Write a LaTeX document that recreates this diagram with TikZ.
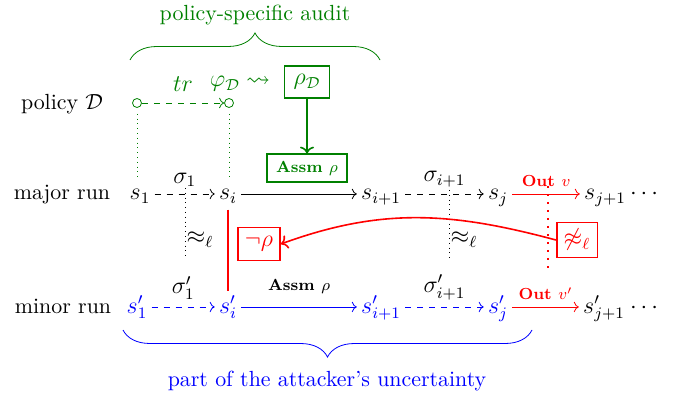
\documentclass[tikz,border=0pt]{standalone}
\usepackage{amsmath,amssymb}
\usepackage{fontspec}
\usepackage{xcolor}
\usepackage{tikz}
\usetikzlibrary{positioning,calc,decorations.pathreplacing,arrows.meta}
\colorlet{audit}{green!50!black}

\begin{document}
\begin{tikzpicture}[x=0.5pt, y=-0.5pt, font=\fontsize{10.95}{13}\selectfont,
    mth/.style={font=\fontsize{12}{14}\selectfont},
    st/.style={mth, anchor=base, text height=2ex, text depth=0.6ex, inner sep=2pt},
    rowlabel/.style={anchor=base},
    hint/.style={font=\fontsize{8}{10}\selectfont\bfseries},
    gbox/.style={draw=audit, thick, text=audit, inner xsep=4.5pt},
    rbox/.style={mth, draw=red, thick, text=red, minimum height=16.5pt, inner xsep=3.5pt},
    gcirc/.style={draw=audit, circle, inner sep=0pt, minimum size=4.5pt}]
    \useasboundingbox (0,0) rectangle (678,400);

    % Audit brace
    \node[audit] (audit) at (255,15) {policy-specific audit};
    \draw[audit, decorate, decoration={brace, amplitude=13.5pt}] (130,60) -- (380,60);

    % Policy row
    \node[rowlabel] (pol) at (62,110) {policy $\mathcal{D}$};
    \node[gcirc] (c1) at (137,103) {};
    \node[gcirc] (c2) at (229,103) {};
    \draw[audit, dashed, ->] (c1) -- (c2);
    \node[audit, mth] (tr) at (183,84) {$tr$};
    \node[audit, mth] (phi) at (225,84) {$\varphi_{\mathcal{D}}$};
    \node[audit, mth] (lt) at (258,82) {$\rightsquigarrow$};
    \node[gbox, mth, minimum height=16pt] (rhoD) at (307,82) {$\rho_{\mathcal{D}}$};
    \node[gbox, hint, minimum height=11.5pt] (assm) at (307,168) {Assm $\rho$};
    \draw[audit, thick, ->] (rhoD) -- (assm);

    % Major run
    \node[rowlabel] (major) at (62,200) {major run};
    \node[st] (s1) at (140,200) {$s_1$};
    \node[st] (si) at (228,200) {$s_i$};
    \node[st] (si1) at (381,200) {$s_{i+1}$};
    \node[st] (sj) at (498,200) {$s_j$};
    \node[st] (sj1) at (605,200) {$s_{j+1}$};
    \node[st] (dots1) at (646,200) {$\cdots$};
    \draw[dashed, ->] (s1.east) -- (si.west) node[midway, above, mth] (sig1) {$\sigma_1$};
    \draw[->] (si.east) -- (si1.west);
    \draw[dashed, ->] (si1.east) -- (sj.west) node[midway, above, mth] (sigi1) {$\sigma_{i+1}$};
    \draw[red, ->] (sj.east) -- (sj1.west) node[midway, above, hint] (outv) {Out $v$};
    \draw[audit, dotted, shorten <=3pt] (c1) -- (c1 |- s1.north);
    \draw[audit, dotted, shorten <=3pt] (c2) -- (c2 |- si.north);

    % Minor run
    \node[rowlabel] (minor) at (63,313) {minor run};
    \node[st, blue] (t1) at (137,313) {$s'_1$};
    \node[st, blue] (ti) at (228,313) {$s'_i$};
    \node[st, blue] (ti1) at (381,313) {$s'_{i+1}$};
    \node[st, blue] (tj) at (498,313) {$s'_j$};
    \node[st] (tj1) at (604,313) {$s'_{j+1}$};
    \node[st] (dots2) at (646,313) {$\cdots$};
    \draw[blue, dashed, ->] (t1.east) -- (ti.west) node[midway, above, black, mth] (sigp1) {$\sigma'_1$};
    \draw[blue, ->] (ti.east) -- (ti1.west) node[midway, above=3pt, black, hint] (assm2) {Assm $\rho$};
    \draw[blue, dashed, ->] (ti1.east) -- (tj.west) node[midway, above, black, mth] (sigpi1) {$\sigma'_{i+1}$};
    \draw[red, ->] (tj.east) -- (tj1.west) node[midway, above, hint] (outv2) {Out $v'$};

    % Low equivalence
    \coordinate (d1a) at (185,188);
    \coordinate (d1b) at (185,258);
    \coordinate (d2a) at (449,190);
    \coordinate (d2b) at (449,258);
    \coordinate (d3a) at (548,186);
    \coordinate (d3b) at (548,272);
    \draw[dotted] (d1a) -- (d1b);
    \draw[dotted] (d2a) -- (d2b);
    \draw[red, line width=1pt, dash pattern=on 1.2pt off 2.8pt] (d3a) -- (d3b);
    \node[mth] (eq1) at (200,240) {$\approx_\ell$};
    \node[mth] (eq2) at (464,240) {$\approx_\ell$};

    % Violation
    \node[rbox] (neg) at (259,244) {$\neg\rho$};
    \node[rbox] (nl) at (577,240) {$\not\approx_\ell$};
    \draw[red, thick] (si.south) -- (ti.north);
    \draw[red, thick, ->] (nl.west) to[out=165, in=20] (neg.east);

    % Uncertainty brace
    \draw[blue, decorate, decoration={brace, amplitude=13.5pt}] (532,330) -- (123,330);
    \node[blue] (unc) at (327,381) {part of the attacker's uncertainty};
\end{tikzpicture}
\end{document}
